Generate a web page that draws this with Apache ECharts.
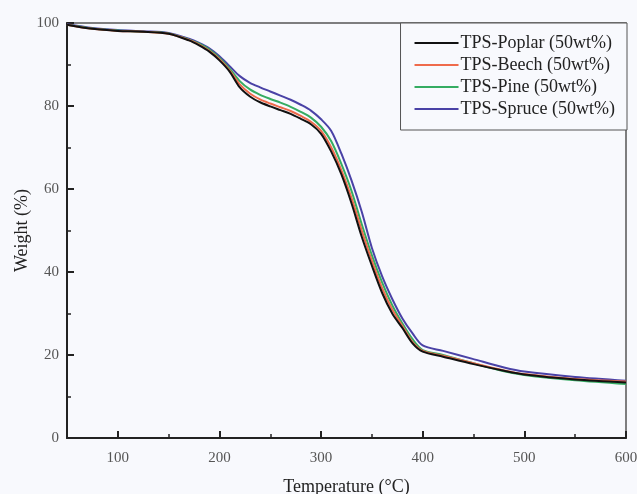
<!DOCTYPE html>
<html>
<head>
<meta charset="utf-8">
<script src="https://cdn.jsdelivr.net/npm/echarts@6/dist/echarts.min.js"></script>
<style>
  html, body { margin: 0; padding: 0; background: #f8f9fd; }
  #main { width: 637px; height: 494px; }
</style>
</head>
<body>
<div id="main"></div>
<script>
// temperature points (°C)
var temps = [50, 75, 100, 125, 150, 170, 180, 190, 200, 210, 220, 230, 240, 250, 260, 270, 280, 290, 300,
    310, 320, 330, 340, 350, 360, 370, 380, 390, 400, 420, 450, 480, 500, 550, 600];

// weight (%)
var poplar = [99.6, 98.6, 98.1, 97.9, 97.4, 95.8, 94.6, 93.1, 91.0, 88.3, 84.5, 82.3, 80.9, 79.9, 79.0, 78.1, 76.9, 75.6, 73.3,
    69.0, 63.5, 56.5, 48.5, 41.5, 35.0, 30.0, 26.5, 22.8, 20.8, 19.6, 17.8, 16.2, 15.3, 14.1, 13.4];
var beech = [99.6, 98.6, 98.1, 97.9, 97.4, 95.9, 94.8, 93.3, 91.3, 88.6, 85.2, 83.0, 81.6, 80.6, 79.7, 78.8, 77.6, 76.2, 74.0,
    70.0, 64.5, 57.8, 50.0, 42.7, 36.2, 31.0, 27.0, 23.1, 21.0, 19.8, 18.0, 16.3, 15.4, 14.2, 13.6];
var pine = [99.6, 98.7, 98.2, 97.9, 97.5, 96.0, 95.0, 93.6, 91.6, 89.0, 86.0, 84.0, 82.7, 81.7, 80.8, 79.8, 78.6, 77.2, 75.0,
    71.5, 66.0, 59.5, 51.5, 44.0, 37.5, 32.0, 27.6, 23.8, 21.2, 20.0, 18.0, 16.1, 15.2, 13.9, 13.0];
var spruce = [99.7, 98.8, 98.3, 98.0, 97.6, 96.2, 95.2, 93.9, 92.0, 89.6, 87.2, 85.6, 84.5, 83.5, 82.5, 81.5, 80.3, 78.9, 76.8,
    74.0, 68.5, 62.0, 54.5, 45.8, 39.0, 33.5, 28.8, 25.2, 22.3, 21.0, 19.0, 17.0, 16.0, 14.7, 13.8];

var seriesNames = ['TPS-Poplar (50wt%)', 'TPS-Beech (50wt%)', 'TPS-Pine (50wt%)', 'TPS-Spruce (50wt%)'];
var seriesData = [poplar, beech, pine, spruce];
var seriesColors = ['#111111', '#ef6b4c', '#35ac62', '#4a42a6'];

function pairs(ys) {
    var out = [];
    for (var i = 0; i < temps.length; i++) {
        out.push([temps[i], ys[i]]);
    }
    return out;
}

var series = [];
for (var i = 0; i < seriesNames.length; i++) {
    series.push({
        name: seriesNames[i],
        type: 'line',
        data: pairs(seriesData[i]),
        smooth: 0.3,
        showSymbol: false,
        z: 10 - i,
        lineStyle: { color: seriesColors[i], width: 2 },
        itemStyle: { color: seriesColors[i] }
    });
}

var font = '"Liberation Serif", "DejaVu Serif", serif';

var myChart = echarts.init(document.getElementById('main'));

var option = {
    backgroundColor: '#f8f9fd',
    animation: false,
    grid: {
        left: 67, right: 11, top: 23, bottom: 56,
        outerBoundsMode: 'none',
        show: true,
        borderColor: '#555',
        borderWidth: 1.5,
        backgroundColor: 'transparent'
    },
    legend: {
        data: seriesNames,
        orient: 'vertical',
        right: 10,
        top: 23,
        padding: [11, 12, 12, 14],
        itemWidth: 44,
        itemHeight: 2,
        itemGap: 4,
        borderColor: '#555',
        borderWidth: 1,
        backgroundColor: '#f8f9fd',
        icon: 'rect',
        textStyle: { fontFamily: font, fontSize: 18, color: '#222', padding: [0, 0, 0, -3] }
    },
    xAxis: {
        type: 'value',
        min: 50,
        max: 600,
        splitNumber: 6,
        name: 'Temperature (°C)',
        nameLocation: 'middle',
        nameGap: 40,
        nameTextStyle: { fontFamily: font, fontSize: 18, color: '#222' },
        axisLine: { lineStyle: { color: '#222', width: 2 } },
        axisTick: { inside: true, length: 7, lineStyle: { color: '#222', width: 2 } },
        minorTick: { show: true, splitNumber: 2, length: 4, lineStyle: { color: '#222', width: 1.5 } },
        axisLabel: { showMinLabel: false, fontFamily: font, fontSize: 15, color: '#555', margin: 13 },
        splitLine: { show: false }
    },
    yAxis: {
        type: 'value',
        min: 0,
        max: 100,
        interval: 20,
        name: 'Weight (%)',
        nameLocation: 'middle',
        nameGap: 36,
        nameMoveOverlap: false,
        nameTextStyle: { fontFamily: font, fontSize: 18, color: '#222' },
        axisLine: { show: true, lineStyle: { color: '#222', width: 2 } },
        axisTick: { show: true, inside: true, length: 7, lineStyle: { color: '#222', width: 2 } },
        minorTick: { show: true, splitNumber: 2, length: 4, lineStyle: { color: '#222', width: 1.5 } },
        axisLabel: { fontFamily: font, fontSize: 15, color: '#555', margin: 8 },
        splitLine: { show: false }
    },
    series: series
};

myChart.setOption(option);
</script>
</body>
</html>
